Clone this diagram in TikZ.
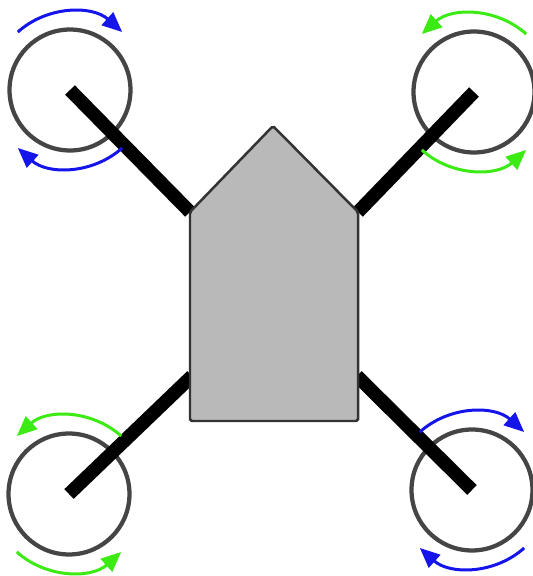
\documentclass[tikz,border=0pt]{standalone}
\usepackage{tikz}
\usetikzlibrary{arrows.meta}

\definecolor{spinblue}{RGB}{20,20,235}
\definecolor{spingreen}{RGB}{60,235,20}
\definecolor{hullgray}{RGB}{185,185,185}

\begin{document}
\begin{tikzpicture}[
      x=0.02cm, y=0.02cm,
      rotor/.style={
         circle,
         draw=black!73,
         line width=0.085cm,
         inner sep=0pt,
         minimum size=2.42cm},
      arm/.style={
         line width=0.27cm,
         black},
      hull/.style={
         draw=black!80,
         fill=hullgray,
         line width=0.05cm,
         rounded corners=1pt},
      spin/.style={
         line width=0.06cm,
         -{Triangle[length=0.4cm,width=0.34cm]}}
      ]
      \useasboundingbox (0,0) rectangle (533,576);
      % propellers
      \node[rotor] (r1) at (70,486) {};
      \node[rotor] (r2) at (474,484) {};
      \node[rotor] (r3) at (69,82) {};
      \node[rotor] (r4) at (472,86) {};
      % hull corners
      \coordinate (bl) at (190,155);
      \coordinate (br) at (358,155);
      \coordinate (sl) at (190,364);
      \coordinate (sr) at (358,364);
      \coordinate (nose) at (273,450);
      \coordinate (al) at (192,200);
      \coordinate (ar) at (357,200);
    \foreach \i/\j in {r1/sl, r2/sr, r3/al, r4/ar}
       \draw [arm] (\i.center) -- (\j);
      \draw[hull] (bl) -- (sl) -- (nose) -- (sr) -- (br) -- cycle;
    % spin direction of each propeller
    \foreach \r/\col/\a/\b in {
      r1/spinblue/132/48,
      r2/spingreen/48/132,
      r3/spingreen/48/132,
      r4/spinblue/132/48}{
       \draw [spin,\col] ([shift={(\a:78)}]\r.center) arc (\a:\b:78);
       \draw [spin,\col] ([shift={(-\b:78)}]\r.center) arc (-\b:-\a:78);
    }
\end{tikzpicture}
\end{document}
